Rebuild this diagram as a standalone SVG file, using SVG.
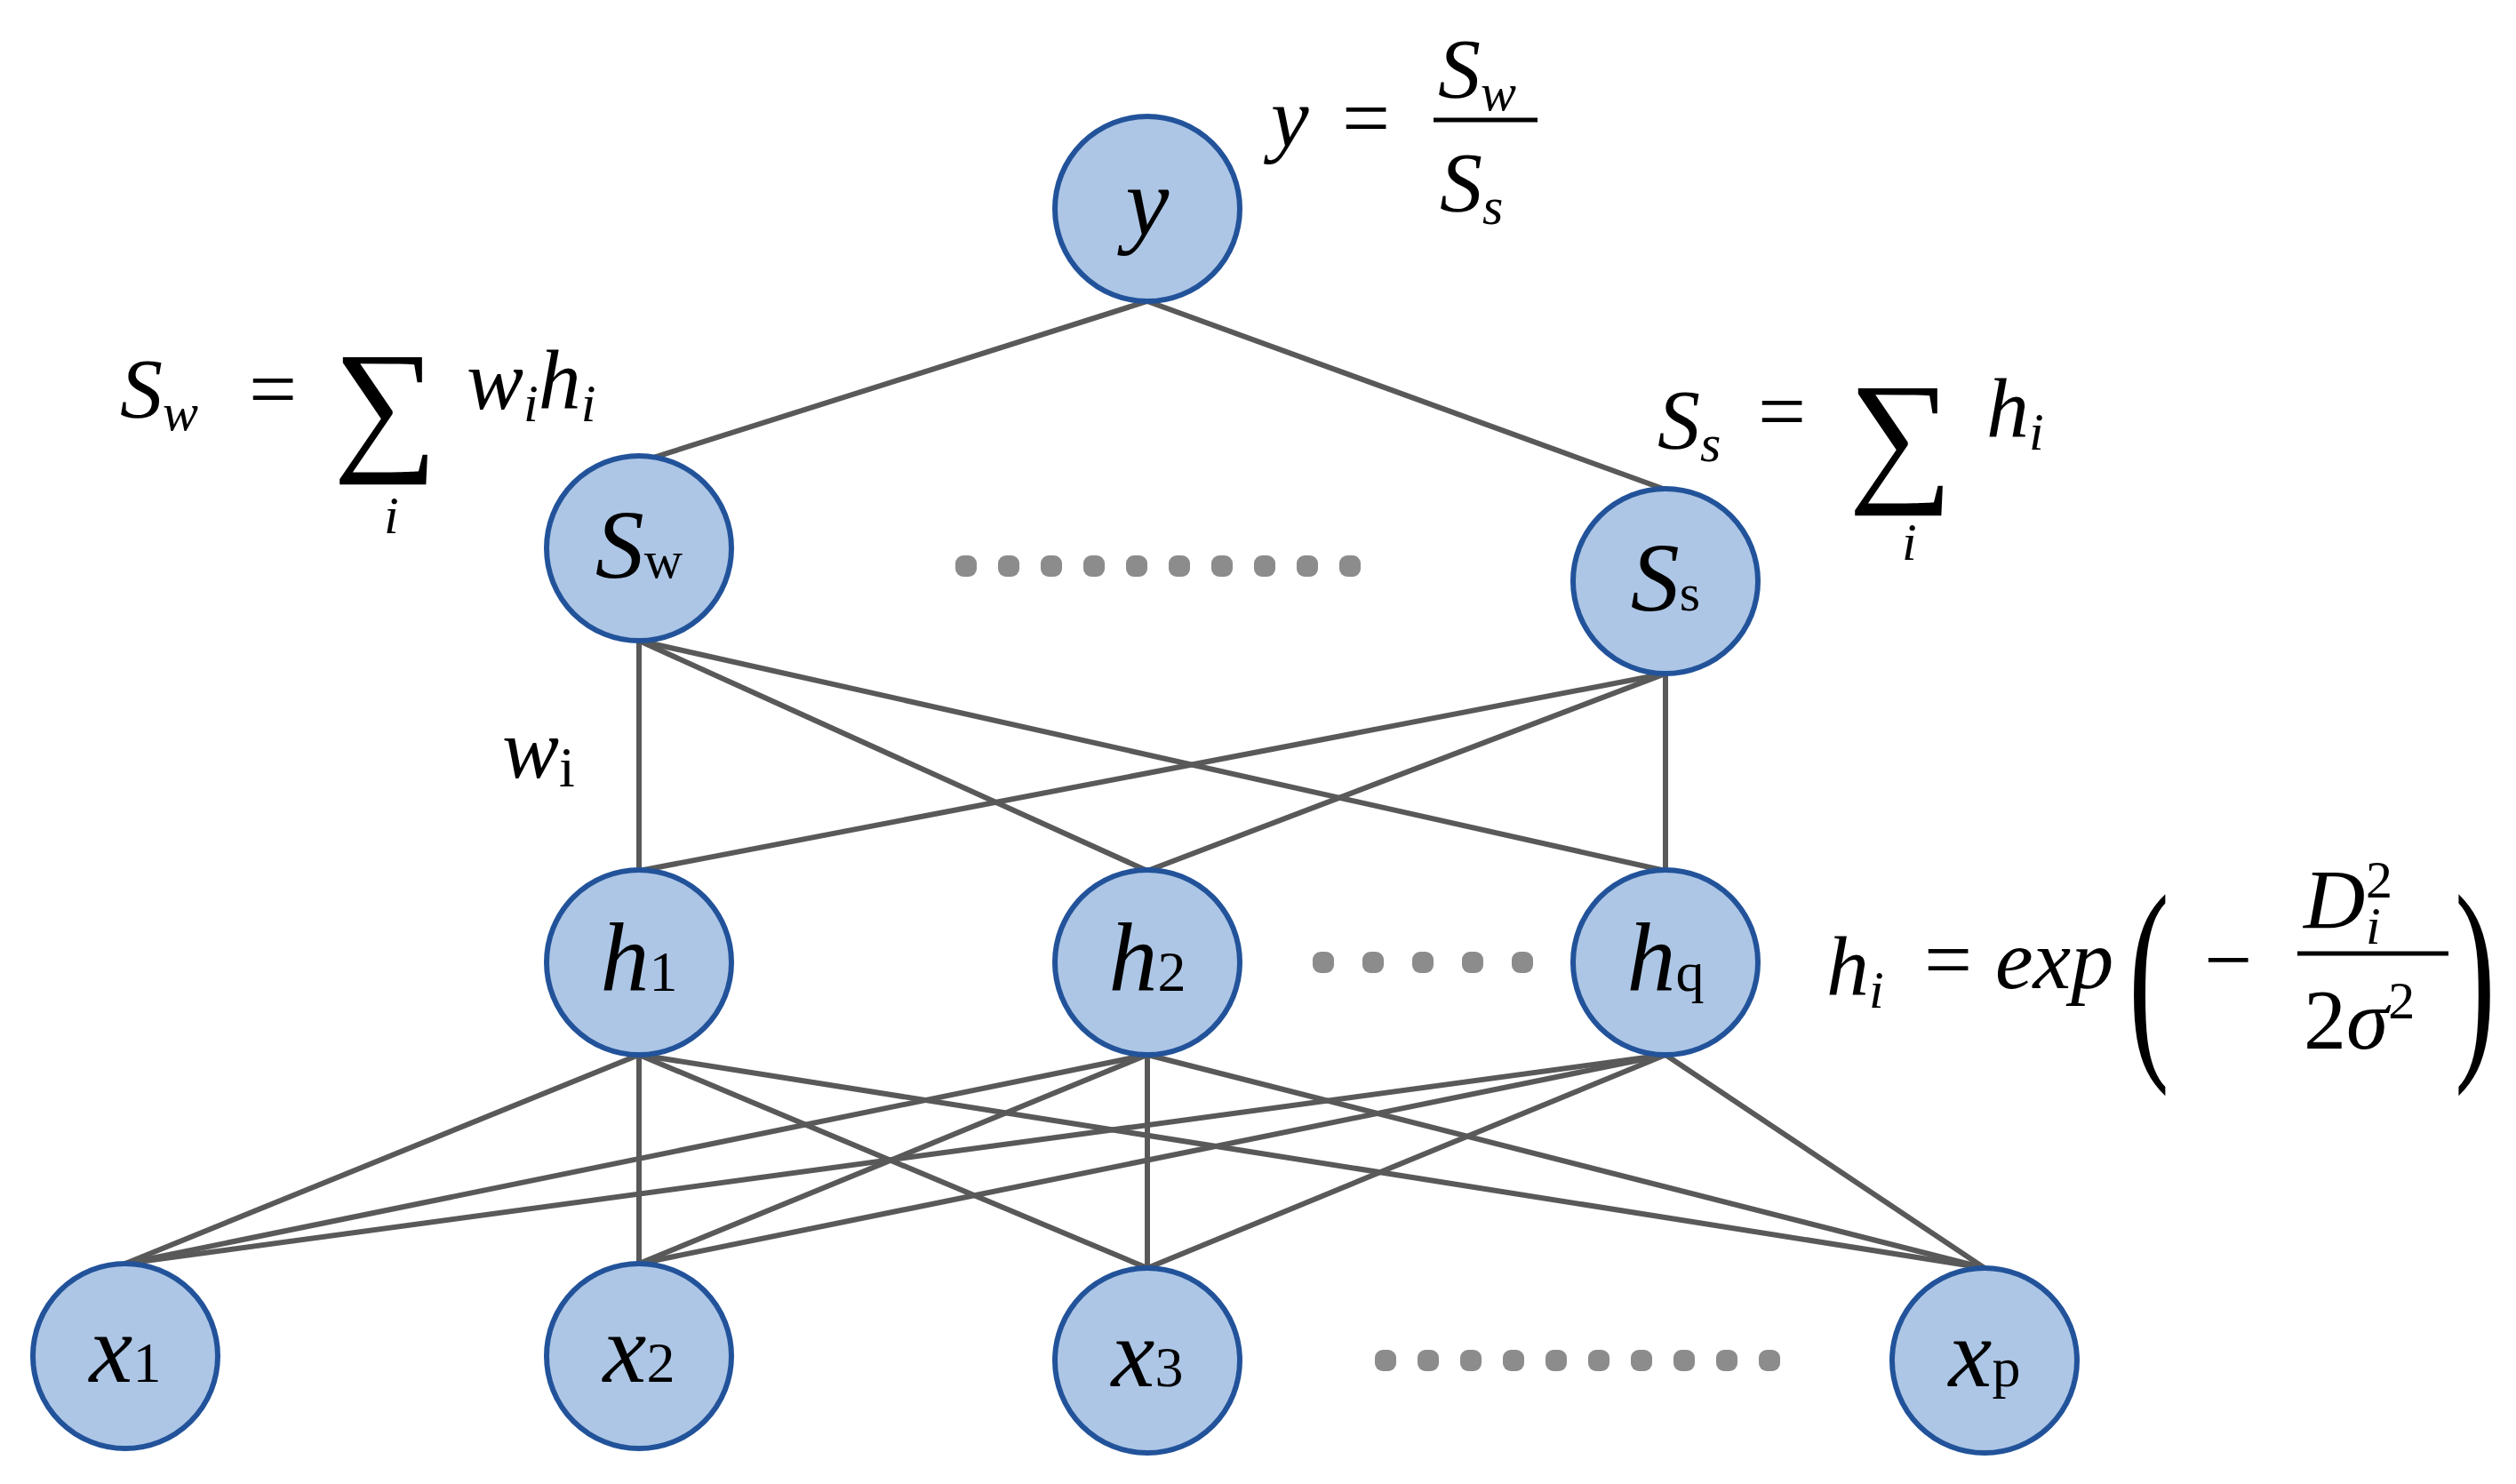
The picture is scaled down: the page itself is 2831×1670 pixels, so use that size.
<svg xmlns="http://www.w3.org/2000/svg" width="2831" height="1670" viewBox="0 0 2831 1670">
<style>
.n{fill:#adc6e5;stroke:#22539a;stroke-width:6}
.e line{stroke:#595959;stroke-width:6}
.t{font-family:"Liberation Serif",serif;fill:#000}
.i{font-style:italic}
.d{fill:#8c8c8c}
</style>
<rect width="2831" height="1670" fill="#fff"/>
<g class="e">
<line x1="1291" y1="339" x2="735" y2="515"/>
<line x1="1291" y1="339" x2="1874" y2="551"/>
<line x1="719" y1="721" x2="719" y2="980"/>
<line x1="719" y1="721" x2="1291" y2="980"/>
<line x1="719" y1="721" x2="1874" y2="980"/>
<line x1="1874" y1="758" x2="719" y2="980"/>
<line x1="1874" y1="758" x2="1291" y2="980"/>
<line x1="1874" y1="758" x2="1874" y2="980"/>
<line x1="719" y1="1187" x2="141" y2="1422"/>
<line x1="719" y1="1187" x2="719" y2="1422"/>
<line x1="719" y1="1187" x2="1291" y2="1427"/>
<line x1="719" y1="1187" x2="2233" y2="1427"/>
<line x1="1291" y1="1187" x2="141" y2="1422"/>
<line x1="1291" y1="1187" x2="719" y2="1422"/>
<line x1="1291" y1="1187" x2="1291" y2="1427"/>
<line x1="1291" y1="1187" x2="2233" y2="1427"/>
<line x1="1874" y1="1187" x2="141" y2="1422"/>
<line x1="1874" y1="1187" x2="719" y2="1422"/>
<line x1="1874" y1="1187" x2="1291" y2="1427"/>
<line x1="1874" y1="1187" x2="2233" y2="1427"/>
</g>
<g id="y"><circle class="n" cx="1291" cy="235" r="104"/><text class="t i" x="1291" y="265" font-size="110" text-anchor="middle">y</text></g>
<g id="Sw"><circle class="n" cx="719" cy="617" r="104"/><text class="t" x="719" y="650" font-size="110" text-anchor="middle"><tspan class="i">S</tspan><tspan font-size="60">w</tspan></text></g>
<g id="Ss"><circle class="n" cx="1874" cy="654" r="104"/><text class="t" x="1874" y="687" font-size="110" text-anchor="middle"><tspan class="i">S</tspan><tspan font-size="60">s</tspan></text></g>
<g id="h1"><circle class="n" cx="719" cy="1083" r="104"/><text class="t" x="719" y="1115" font-size="110" text-anchor="middle"><tspan class="i">h</tspan><tspan font-size="64">1</tspan></text></g>
<g id="h2"><circle class="n" cx="1291" cy="1083" r="104"/><text class="t" x="1291" y="1115" font-size="110" text-anchor="middle"><tspan class="i">h</tspan><tspan font-size="64">2</tspan></text></g>
<g id="hq"><circle class="n" cx="1874" cy="1083" r="104"/><text class="t" x="1874" y="1115" font-size="110" text-anchor="middle"><tspan class="i">h</tspan><tspan font-size="64">q</tspan></text></g>
<g id="x1"><circle class="n" cx="141" cy="1526" r="104"/><text class="t" x="141" y="1555" font-size="110" text-anchor="middle"><tspan class="i">x</tspan><tspan font-size="64">1</tspan></text></g>
<g id="x2"><circle class="n" cx="719" cy="1526" r="104"/><text class="t" x="719" y="1555" font-size="110" text-anchor="middle"><tspan class="i">x</tspan><tspan font-size="64">2</tspan></text></g>
<g id="x3"><circle class="n" cx="1291" cy="1531" r="104"/><text class="t" x="1291" y="1560" font-size="110" text-anchor="middle"><tspan class="i">x</tspan><tspan font-size="64">3</tspan></text></g>
<g id="xp"><circle class="n" cx="2233" cy="1531" r="104"/><text class="t" x="2233" y="1560" font-size="110" text-anchor="middle"><tspan class="i">x</tspan><tspan font-size="64">p</tspan></text></g>
<g id="dots">
<g class="d">
<rect x="1075" y="625" width="24" height="24" rx="9"/><rect x="1123" y="625" width="24" height="24" rx="9"/><rect x="1171" y="625" width="24" height="24" rx="9"/><rect x="1219" y="625" width="24" height="24" rx="9"/><rect x="1267" y="625" width="24" height="24" rx="9"/><rect x="1315" y="625" width="24" height="24" rx="9"/><rect x="1363" y="625" width="24" height="24" rx="9"/><rect x="1411" y="625" width="24" height="24" rx="9"/><rect x="1459" y="625" width="24" height="24" rx="9"/><rect x="1507" y="625" width="24" height="24" rx="9"/>
<rect x="1477" y="1071" width="24" height="24" rx="9"/><rect x="1533" y="1071" width="24" height="24" rx="9"/><rect x="1589" y="1071" width="24" height="24" rx="9"/><rect x="1645" y="1071" width="24" height="24" rx="9"/><rect x="1701" y="1071" width="24" height="24" rx="9"/>
<rect x="1547" y="1519" width="24" height="24" rx="9"/><rect x="1595" y="1519" width="24" height="24" rx="9"/><rect x="1643" y="1519" width="24" height="24" rx="9"/><rect x="1691" y="1519" width="24" height="24" rx="9"/><rect x="1739" y="1519" width="24" height="24" rx="9"/><rect x="1787" y="1519" width="24" height="24" rx="9"/><rect x="1835" y="1519" width="24" height="24" rx="9"/><rect x="1883" y="1519" width="24" height="24" rx="9"/><rect x="1931" y="1519" width="24" height="24" rx="9"/><rect x="1979" y="1519" width="24" height="24" rx="9"/>
</g>
</g>
<g id="labels" class="t" font-size="96">
<text x="1430" y="165" class="i">y</text><text x="1510" y="165">=</text>
<text x="1618" y="110" class="i">S<tspan font-size="60" dy="14">w</tspan></text>
<line x1="1613" y1="135" x2="1730" y2="135" stroke="#000" stroke-width="5"/>
<text x="1620" y="238" class="i">S<tspan font-size="60" dy="14">s</tspan></text>

<text x="135" y="470" class="i">S<tspan font-size="60" dy="14">w</tspan></text>
<text x="280" y="470">=</text>
<text x="375" y="510" font-size="165">∑</text>
<text x="432" y="600" class="i" font-size="60">i</text>
<text x="525" y="460" class="i">w<tspan font-size="60" dy="14">i</tspan><tspan dy="-14">h</tspan><tspan font-size="60" dy="14">i</tspan></text>

<text x="1865" y="505" class="i">S<tspan font-size="60" dy="14">s</tspan></text>
<text x="1978" y="495">=</text>
<text x="2080" y="545" font-size="165">∑</text>
<text x="2140" y="630" class="i" font-size="60">i</text>
<text x="2235" y="492" class="i">h<tspan font-size="60" dy="14">i</tspan></text>

<text x="565" y="875" class="i">w<tspan font-size="64" dy="10" font-style="normal">i</tspan></text>

<text x="2055" y="1120" class="i">h<tspan font-size="60" dy="14">i</tspan></text>
<text x="2165" y="1112">=</text>
<text x="2245" y="1112" class="i">exp</text>
<text x="2395" y="1180" font-size="250" transform="translate(2395 1180) scale(0.55 1) translate(-2395 -1180)">(</text>
<text x="2480" y="1112">−</text>
<text x="2592" y="1045" class="i">D</text>
<text x="2662" y="1010" font-size="60">2</text>
<text x="2662" y="1062" font-size="60" class="i">i</text>
<line x1="2585" y1="1073" x2="2755" y2="1073" stroke="#000" stroke-width="5"/>
<text x="2592" y="1180">2<tspan class="i">σ</tspan><tspan font-size="60" dy="-34">2</tspan></text>
<text x="2762" y="1180" font-size="250" transform="translate(2762 1180) scale(0.55 1) translate(-2762 -1180)">)</text>
</g>
</svg>
